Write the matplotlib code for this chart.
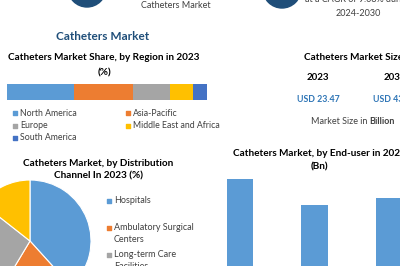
import numpy as np
import matplotlib.pyplot as plt
from matplotlib.patches import Circle

plt.rcParams['font.family'] = ['Lato', 'DejaVu Sans']

# region share (%)
regions = ["North America", "Asia-Pacific", "Europe", "Middle East and Africa", "South America"]
region_share = [33.5, 29.5, 18.5, 11.5, 7.0]
region_colors = ["#5B9BD5", "#ED7D31", "#A5A5A5", "#FFC000", "#4472C4"]

# distribution channel (%)
channels = ["Hospitals", "Ambulatory Surgical\nCenters", "Long-term Care\nFacilities", "Others"]
channel_share = [38.3, 20.3, 27.0, 14.4]
channel_colors = ["#5B9BD5", "#ED7D31", "#A5A5A5", "#FFC000"]

# end-user (Bn)
end_users = ["Hospitals", "Ambulatory Surgical Centers", "Others"]
end_user_vals = [10.9, 8.75, 9.3]

W, H = 400, 266
fig = plt.figure(figsize=(4, 2.66), dpi=100)
fig.patch.set_facecolor("white")

# background axes in pixel coordinates for text / decoration
bg = fig.add_axes([0, 0, 1, 1])
bg.set_xlim(0, W)
bg.set_ylim(H, 0)
bg.axis("off")

navy = "#1F4E79"
grey_txt = "#404040"
bg.add_patch(Circle((87, -12), 19, color=navy))
bg.add_patch(Circle((282, -11), 19, color=navy))
bg.text(176, 6, "Catheters Market", ha="center", va="center", fontsize=6.5, color=grey_txt)
bg.text(358, 0, "at a CAGR of 9.08% during", ha="center", va="center", fontsize=6.5, color=grey_txt)
bg.text(358, 13, "2024-2030", ha="center", va="center", fontsize=6.5, color=grey_txt)

bg.text(103, 37, "Catheters Market", ha="center", va="center", fontsize=8.5,
        fontweight="bold", color=navy)
bg.text(104, 58, "Catheters Market Share, by Region in 2023", ha="center", va="center",
        fontsize=7.2, fontweight="bold", color="black")
bg.text(104, 73, "(%)", ha="center", va="center", fontsize=7.2, fontweight="bold")

# region legend
leg_pos = [(15, 113), (128, 113), (15, 126), (128, 126), (15, 138)]
for (x, y), name, c in zip(leg_pos, regions, region_colors):
    bg.scatter([x], [y], marker="s", s=8, color=c)
    bg.text(x + 5, y, name, ha="left", va="center", fontsize=6.3, color=grey_txt)

# market size block
bg.text(304, 58, "Catheters Market Size", ha="left", va="center", fontsize=7.2, fontweight="bold")
bg.text(318, 78, "2023", ha="center", va="center", fontsize=7, fontweight="bold")
bg.text(384, 78, "2030", ha="left", va="center", fontsize=7, fontweight="bold")
bg.text(318, 99, "USD 23.47", ha="center", va="center", fontsize=6.3, fontweight="bold", color="#2E75B6")
bg.text(373, 99, "USD 43.25", ha="left", va="center", fontsize=6.3, fontweight="bold", color="#2E75B6")
bg.text(311, 122, "Market Size in", ha="left", va="center", fontsize=6.5, color=grey_txt)
bg.text(369, 122, "Billion", ha="left", va="center", fontsize=6.5, fontweight="bold", color=grey_txt)

bg.text(233, 153, "Catheters Market, by End-user in 2023", ha="left", va="center",
        fontsize=7.2, fontweight="bold")
bg.text(319, 167, "(Bn)", ha="center", va="center", fontsize=7.2, fontweight="bold")

bg.text(98, 163, "Catheters Market, by Distribution", ha="center", va="center",
        fontsize=7.2, fontweight="bold")
bg.text(98, 176, "Channel In 2023 (%)", ha="center", va="center", fontsize=7.2, fontweight="bold")

# pie legend
pie_leg_y = [201, 228, 255, 285]
for y, name, c in zip(pie_leg_y, channels, channel_colors):
    bg.scatter([109], [y], marker="s", s=6, color=c)
    bg.text(114, y - 5, name, ha="left", va="top", fontsize=6.5, color=grey_txt, linespacing=1.4)

# stacked region bar
axb = fig.add_axes([7 / W, 1 - 100 / H, 200 / W, 16 / H])
left = 0
for v, c in zip(region_share, region_colors):
    axb.barh([0], [v], left=left, height=1, color=c)
    left += v
axb.set_xlim(0, 100)
axb.set_ylim(-0.5, 0.5)
axb.axis("off")

# pie
axp = fig.add_axes([-31 / W, 1 - 302 / H, 122 / W, 122 / H])
axp.pie(channel_share, colors=channel_colors, startangle=90, counterclock=False,
        wedgeprops=dict(linewidth=0.8, edgecolor="white"))
axp.set_xlim(-1, 1)
axp.set_ylim(-1, 1)

# end-user bars
axe = fig.add_axes([202.75 / W, 1 - 310 / H, 223.5 / W, 140 / H])
axe.bar(range(len(end_users)), end_user_vals, width=0.36, color="#5B9BD5")
axe.set_xlim(-0.5, 2.5)
axe.set_ylim(0, 11.65)
axe.axis("off")

fig.savefig("out.png", dpi=100, facecolor="white")
